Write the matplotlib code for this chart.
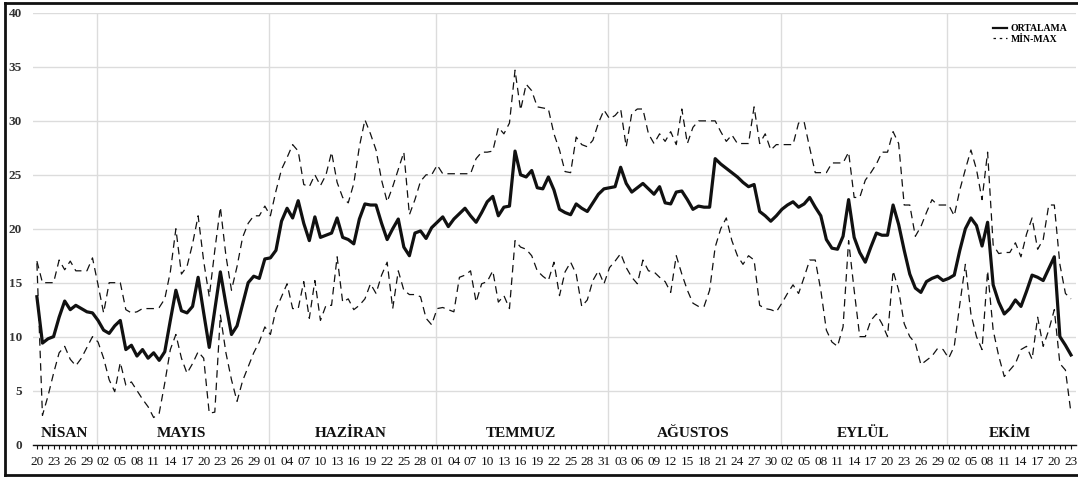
import matplotlib
matplotlib.use("Agg")
import matplotlib.pyplot as plt
import matplotlib.ticker as mticker
import numpy as np
import pandas as pd
from matplotlib.lines import Line2D

plt.rcParams["font.family"] = ["Liberation Serif", "DejaVu Serif"]

START = "2021-04-20"

# daily mean, Apr 20 .. Oct 23
ORTALAMA = [
    13.7, 9.4, 9.8, 10.0, 11.8, 13.3, 12.5, 12.9, 12.6, 12.3,
    12.2, 11.5, 10.6, 10.3, 11.0, 11.5, 8.8, 9.2, 8.2, 8.8,
    8.0, 8.5, 7.8, 8.6, 11.5, 14.3, 12.4, 12.2, 12.8, 15.5,
    12.2, 9.0, 12.5, 16.0, 13.0, 10.2, 11.0, 13.0, 15.0, 15.6,
    15.4, 17.2, 17.3, 18.0, 20.7, 21.9, 21.0, 22.6, 20.5, 18.9,
    21.1, 19.2, 19.4, 19.6, 21.0, 19.2, 19.0, 18.6, 20.9, 22.3,
    22.2, 22.2, 20.5, 19.0, 20.0, 20.9, 18.3, 17.5, 19.6, 19.8,
    19.1, 20.1, 20.6, 21.1, 20.2, 20.9, 21.4, 21.9, 21.2, 20.6,
    21.5, 22.5, 23.0, 21.2, 22.0, 22.1, 27.2, 25.0, 24.8, 25.4,
    23.8, 23.7, 24.8, 23.6, 21.8, 21.5, 21.3, 22.3, 21.9, 21.6,
    22.4, 23.2, 23.7, 23.8, 23.9, 25.7, 24.2, 23.4, 23.8, 24.2,
    23.7, 23.2, 23.9, 22.4, 22.3, 23.4, 23.5, 22.7, 21.8, 22.1,
    22.0, 22.0, 26.5, 26.0, 25.6, 25.2, 24.8, 24.3, 23.9, 24.1,
    21.6, 21.2, 20.7, 21.2, 21.8, 22.2, 22.5, 22.0, 22.3, 22.9,
    22.0, 21.2, 19.0, 18.2, 18.1, 19.3, 22.7, 19.2, 17.8, 16.9,
    18.3, 19.6, 19.4, 19.4, 22.2, 20.4, 18.0, 15.8, 14.5, 14.1,
    15.1, 15.4, 15.6, 15.2, 15.4, 15.7, 18.0, 20.0, 21.0, 20.3,
    18.4, 20.6, 14.8, 13.2, 12.1, 12.6, 13.4, 12.8, 14.2, 15.7,
    15.5, 15.2, 16.3, 17.4, 10.0, 9.2, 8.3,
]

MAKS = [
    17.0, 15.0, 15.0, 15.0, 17.1, 16.2, 17.0, 16.1, 16.1, 16.1,
    17.3, 14.8, 12.2, 15.0, 15.0, 15.0, 12.5, 12.2, 12.3, 12.6,
    12.6, 12.6, 12.7, 13.5, 16.0, 20.0, 15.8, 16.5, 18.6, 21.2,
    17.0, 13.7, 18.0, 22.0, 17.5, 14.3, 16.5, 19.2, 20.5, 21.2,
    21.2, 22.1, 21.2, 23.5, 25.5, 26.6, 27.8, 27.2, 24.1, 23.9,
    25.0, 24.0, 25.0, 27.1, 24.3, 22.9, 22.4, 24.2, 27.6, 30.1,
    28.8, 27.3, 24.5, 22.5, 23.9, 25.5, 27.1, 21.3, 22.7, 24.4,
    25.0, 25.0, 25.9, 25.1, 25.1, 25.1, 25.1, 25.1, 25.1, 26.5,
    27.1, 27.1, 27.2, 29.4, 28.8, 29.8, 34.7, 31.0, 33.4, 32.8,
    31.3, 31.2, 31.1, 28.8, 27.3, 25.3, 25.2, 28.5, 27.8, 27.6,
    28.2, 29.8, 31.0, 30.2, 30.5, 31.1, 27.6, 30.7, 31.1, 31.1,
    28.8, 27.9, 28.8, 28.1, 29.0, 27.8, 31.1, 27.9, 29.4, 30.0,
    30.0, 30.0, 30.0, 29.0, 28.1, 28.7, 27.9, 27.9, 27.9, 31.3,
    27.9, 28.8, 27.3, 27.8, 27.8, 27.8, 27.8, 29.8, 29.9, 27.5,
    25.2, 25.2, 25.2, 26.1, 26.1, 26.1, 27.1, 22.9, 22.9, 24.5,
    25.2, 26.0, 27.1, 27.1, 29.0, 27.9, 22.2, 22.2, 19.3, 20.2,
    21.5, 22.7, 22.2, 22.2, 22.2, 21.2, 23.6, 25.5, 27.3, 25.5,
    22.7, 27.1, 18.5, 17.7, 17.8, 17.8, 18.7, 17.4, 19.5, 21.0,
    18.1, 19.0, 22.2, 22.2, 16.7, 14.0, 13.5,
]

MIN = [
    16.8, 2.7, 4.5, 6.6, 8.5, 9.1, 7.9, 7.3, 8.0, 9.0,
    10.0, 9.5, 8.0, 6.0, 4.9, 7.6, 5.5, 5.8, 5.0, 4.2,
    3.5, 2.5, 2.9, 5.7, 8.8, 10.2, 8.0, 6.6, 7.5, 8.6,
    8.0, 2.9, 3.0, 12.0, 8.5, 6.0, 4.0, 5.9, 7.2, 8.5,
    9.5, 10.9, 10.2, 12.5, 13.7, 14.9, 12.6, 12.6, 15.1, 11.7,
    15.2, 11.5, 12.9, 12.9, 17.4, 13.2, 13.5, 12.5, 12.9, 13.5,
    14.9, 14.0, 15.7, 16.9, 12.6, 16.1, 14.3, 13.9, 13.9, 13.7,
    11.7, 11.1, 12.6, 12.7, 12.5, 12.3, 15.5, 15.7, 16.1, 13.2,
    14.9, 15.1, 16.1, 13.2, 13.8, 12.6, 18.9, 18.3, 18.1, 17.5,
    16.1, 15.6, 15.2, 16.9, 13.8, 16.0, 16.9, 15.8, 12.8, 13.4,
    15.2, 16.1, 14.9, 16.4, 17.0, 17.7, 16.4, 15.5, 14.9, 17.1,
    16.1, 16.0, 15.5, 15.1, 14.1, 17.5, 15.8, 14.3, 13.1, 12.8,
    12.8, 14.3, 18.3, 20.0, 21.0, 18.9, 17.5, 16.7, 17.5, 17.1,
    12.9, 12.6, 12.5, 12.3, 13.1, 14.0, 14.8, 14.0, 15.5, 17.1,
    17.1, 14.3, 10.6, 9.5, 9.1, 10.9, 18.9, 14.3, 10.0, 10.0,
    11.5, 12.1, 11.2, 10.0, 16.1, 14.3, 11.2, 10.0, 9.4, 7.4,
    7.8, 8.2, 8.9, 8.8, 8.0, 9.1, 13.0, 16.7, 12.1, 10.0,
    8.8, 16.1, 10.6, 8.2, 6.3, 6.9, 7.5, 8.8, 9.1, 7.9,
    11.8, 9.1, 10.6, 12.5, 7.5, 6.9, 2.9,
]

AYLAR = ["NİSAN", "MAYIS", "HAZİRAN", "TEMMUZ", "AĞUSTOS", "EYLÜL", "EKİM"]

dates = pd.date_range(START, periods=len(ORTALAMA), freq="D")
x = np.arange(len(dates))

INK = "#111111"
GRID = "#dcdcdc"
DASH = (0, (6, 4))

fig = plt.figure(figsize=(10.78, 4.79), dpi=100)
ax = fig.add_axes([33 / 1078, 34.5 / 479, 1043 / 1078, 431.5 / 479])

ax.plot(x, MAKS, color=INK, lw=0.9, ls=DASH, zorder=3)
ax.plot(x, MIN, color=INK, lw=0.9, ls=DASH, zorder=3)
ax.plot(x, ORTALAMA, color=INK, lw=2.3, zorder=4)

# month boundaries + centred month names
month_start = [i for i in range(1, len(dates)) if dates[i].month != dates[i - 1].month]
bounds = [0] + month_start + [len(dates)]
for b in month_start:
    ax.axvline(b - 0.25, color=GRID, lw=1, zorder=1)
for name, a, b in zip(AYLAR, bounds[:-1], bounds[1:]):
    ax.text((a + b - 1) / 2, 1.0, name, ha="center", va="center",
            fontsize=11, fontweight="bold", color=INK)

ax.set_xlim(-0.7, 186.9)
ax.set_ylim(0, 40)
ax.yaxis.set_major_locator(mticker.MultipleLocator(5))
ax.grid(axis="y", color=GRID, lw=1, zorder=0)

ax.set_xticks(x[::3])
ax.set_xticklabels([d.strftime("%d") for d in dates[::3]])
ax.set_xticks(x, minor=True)
ax.tick_params(axis="x", which="both", length=3, width=0.8, color=INK,
               labelsize=9.5, pad=5, labelcolor=INK)
ax.tick_params(axis="y", length=0, pad=8, labelsize=9.5, labelcolor="#333333")
for lab in ax.get_yticklabels():
    lab.set_fontweight("bold")

for side in ["top", "right", "left"]:
    ax.spines[side].set_visible(False)
ax.spines["bottom"].set_color(INK)
ax.spines["bottom"].set_linewidth(1.0)

handles = [Line2D([], [], color=INK, lw=1.6),
           Line2D([], [], color=INK, lw=0.9, ls=(0, (2, 3)))]
ax.legend(handles, ["ORTALAMA", "MİN-MAX"], loc="upper right",
          bbox_to_anchor=(1.0, 0.995), frameon=False, handlelength=1.4,
          handletextpad=0.4, labelspacing=0.2,
          prop={"family": "Liberation Serif", "weight": "bold", "size": 7})

# outer frame of the picture
for xs, ys in [([5, 5], [3, 475]), ([5, 1078], [3, 3]), ([5, 1078], [475, 475])]:
    fig.add_artist(Line2D([v / 1078 for v in xs], [1 - v / 479 for v in ys],
                          color=INK, lw=2, transform=fig.transFigure))

fig.savefig("out.png", dpi=100, facecolor="white")
